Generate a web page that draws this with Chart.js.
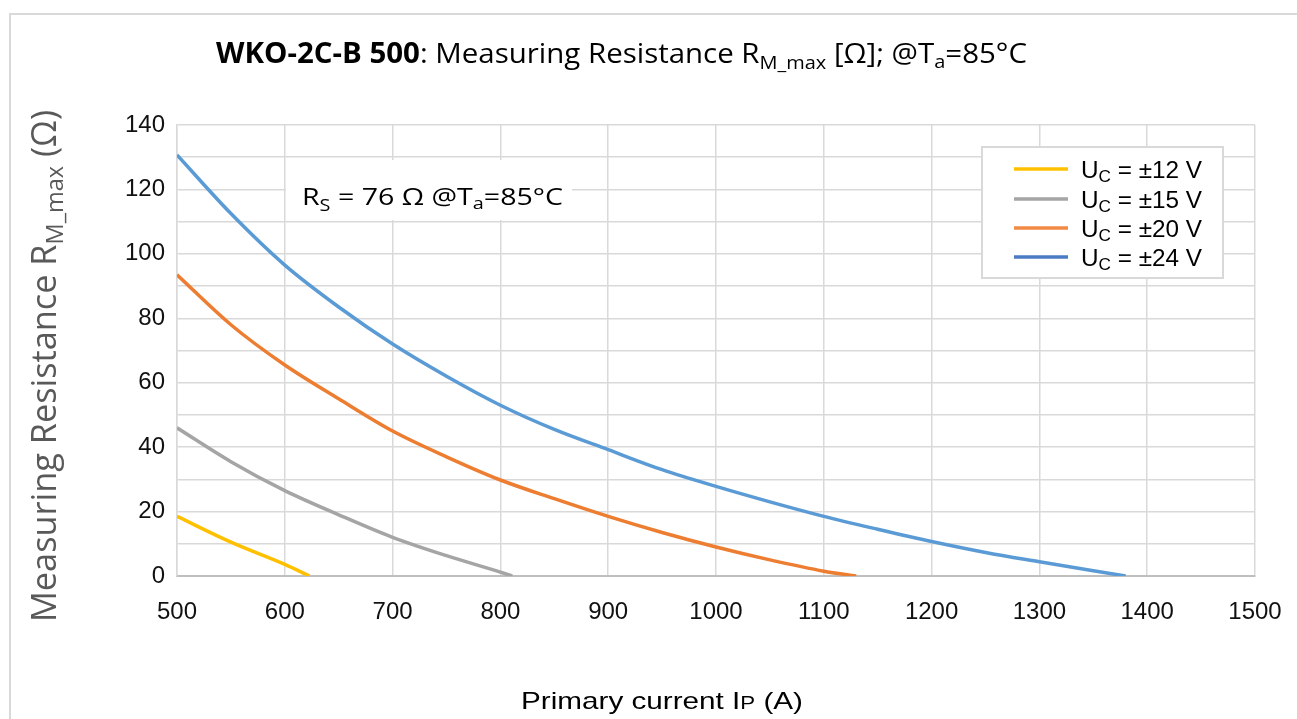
<!DOCTYPE html>
<html>
<head>
<meta charset="utf-8">
<script src="https://cdn.jsdelivr.net/npm/chart.js@4.4.1/dist/chart.umd.min.js"></script>
<style>
html,body{margin:0;padding:0;background:#fff;}
canvas{display:block;}
</style>
</head>
<body>
<canvas id="c" width="1297" height="719"></canvas>
<script>
// ---- Data ----
const seriesLabels = ['±12 V', '±15 V', '±20 V', '±24 V'];
const ip12 = [500, 550, 600, 623];
const r12  = [18.5, 10.5, 3.6, 0];
const ip15 = [500, 550, 600, 650, 700, 750, 800, 811];
const r15  = [46, 35.5, 26.5, 19, 12, 6.3, 1.2, 0];
const ip20 = [500, 550, 600, 650, 700, 750, 800, 850, 900, 950, 1000, 1050, 1100, 1130];
const r20  = [93.5, 78, 65.5, 55, 45, 37, 29.8, 24, 18.5, 13.5, 9, 5, 1.5, 0];
const ip24 = [500, 550, 600, 650, 700, 750, 800, 850, 900, 950, 1000, 1050, 1100, 1150, 1200, 1250, 1300, 1350, 1380];
const r24  = [130.7, 112.5, 96.5, 83.5, 72, 62, 53, 45.5, 39.2, 33, 27.8, 23, 18.5, 14.5, 10.7, 7.3, 4.4, 1.6, 0];
const xTicks = [500, 600, 700, 800, 900, 1000, 1100, 1200, 1300, 1400, 1500];
const yTicks = [0, 20, 40, 60, 80, 100, 120, 140];

const colors = ['#FFC000', '#A5A5A5', '#ED7D31', '#5B9BD5'];
const legendColors = ['#FFC000', '#A5A5A5', '#F08A45', '#4A7CC4'];

function pts(xs, ys){ return xs.map((x,i)=>({x:x, y:ys[i]})); }

function drawRich(ctx, parts, o){
  ctx.save();
  let total = 0;
  for (const p of parts){
    ctx.font = (p.weight||'normal') + ' ' + p.size + 'px ' + (p.family||o.family);
    p.w = ctx.measureText(p.t).width;
    total += p.w;
  }
  const sx = o.width ? o.width/total : 1;
  ctx.translate(o.x, o.y);
  if (o.rotate) ctx.rotate(-Math.PI/2);
  ctx.scale(sx, 1);
  let cx = o.align === 'center' ? -total/2 : 0;
  ctx.fillStyle = o.color;
  ctx.textBaseline = 'alphabetic';
  ctx.textAlign = 'left';
  for (const p of parts){
    ctx.font = (p.weight||'normal') + ' ' + p.size + 'px ' + (p.family||o.family);
    ctx.fillText(p.t, cx, p.dy||0);
    cx += p.w;
  }
  ctx.restore();
}

const textPlugin = {
  id: 'texts',
  beforeDraw(chart){
    const ctx = chart.ctx;
    ctx.save();
    ctx.fillStyle = '#fff';
    ctx.fillRect(0,0,chart.width,chart.height);
    ctx.strokeStyle = '#d9d9d9';
    ctx.lineWidth = 2;
    ctx.strokeRect(10, 14, chart.width + 20, chart.height + 20);
    ctx.restore();
  },
  beforeDatasetsDraw(chart){
    const ctx = chart.ctx;
    ctx.save();
    ctx.fillStyle = '#fff';
    ctx.fillRect(286, 160, 286, 60);
    ctx.restore();
    const F = '"Open Sans", sans-serif';
    drawRich(ctx, [
      {t:'R', size:23},
      {t:'S', size:16, dy:6},
      {t:' = 76 Ω @T', size:23},
      {t:'a', size:16, dy:4},
      {t:'=85°C', size:23}
    ], {x:302, y:205, align:'left', width:261, color:'#000', family:F});
  },
  afterDraw(chart){
    const ctx = chart.ctx;
    const F = '"Open Sans", sans-serif';
    const A = '"Liberation Sans", Arial, sans-serif';
    drawRich(ctx, [
      {t:'WKO-2C-B 500', size:28, weight:'bold'},
      {t:': Measuring Resistance R', size:28},
      {t:'M_max', size:19, dy:6},
      {t:' [Ω]; @T', size:28},
      {t:'a', size:19, dy:5},
      {t:'=85°C', size:28}
    ], {x:621.5, y:63, align:'center', width:811, color:'#000', family:F});
    drawRich(ctx, [
      {t:'Measuring Resistance R', size:35},
      {t:'M_max', size:24, dy:7},
      {t:' (Ω)', size:35}
    ], {x:56, y:366, align:'center', width:512, rotate:true, color:'#595959', family:F});
    drawRich(ctx, [
      {t:'Primary current I', size:24},
      {t:'P', size:18},
      {t:' (A)', size:24}
    ], {x:662, y:709, align:'center', width:282, color:'#000', family:A});
    ctx.save();
    ctx.fillStyle = '#fff';
    ctx.fillRect(982, 147, 241, 131);
    ctx.strokeStyle = '#d9d9d9';
    ctx.lineWidth = 2;
    ctx.strokeRect(982, 147, 241, 131);
    const rows = [169, 199, 228, 257];
    chart.data.datasets.forEach((ds, i) => {
      const y = rows[i];
      ctx.strokeStyle = legendColors[i];
      ctx.lineWidth = 3.5;
      ctx.beginPath();
      ctx.moveTo(1014, y);
      ctx.lineTo(1068, y);
      ctx.stroke();
      drawRich(ctx, [
        {t:'U', size:24},
        {t:'C', size:17, dy:4},
        {t:' = ' + seriesLabels[i], size:24}
      ], {x:1081, y:y+9, align:'left', width:121, color:'#000', family:A});
    });
    ctx.restore();
  }
};

const ctx = document.getElementById('c').getContext('2d');
new Chart(ctx, {
  type: 'line',
  data: {
    datasets: [
      {label:'Uc = ' + seriesLabels[0], data: pts(ip12, r12), borderColor: colors[0]},
      {label:'Uc = ' + seriesLabels[1], data: pts(ip15, r15), borderColor: colors[1]},
      {label:'Uc = ' + seriesLabels[2], data: pts(ip20, r20), borderColor: colors[2]},
      {label:'Uc = ' + seriesLabels[3], data: pts(ip24, r24), borderColor: colors[3]}
    ].map(d => Object.assign(d, {borderWidth:3.5, pointRadius:0, fill:false, cubicInterpolationMode:'monotone'}))
  },
  options: {
    responsive: false,
    animation: false,
    devicePixelRatio: 1,
    layout: { padding: { top: 125, right: 42, left: 0, bottom: 0 } },
    plugins: { legend: { display: false }, title: { display: false }, tooltip: { enabled: false } },
    scales: {
      x: {
        type: 'linear',
        min: xTicks[0], max: xTicks[xTicks.length-1],
        afterBuildTicks(scale){ scale.ticks = xTicks.map(v => ({value:v})); },
        afterFit(scale){ scale.height = 143; scale.paddingLeft = 0; scale.paddingRight = 0; },
        ticks: { font: { size: 24, family: '"Liberation Sans", Arial, sans-serif' }, color: '#111', padding: 22, maxRotation: 0, autoSkip: false,
                 callback: (v) => String(v) },
        grid: { color: '#d9d9d9', lineWidth: 1.5, drawTicks: false },
        border: { color: '#bfbfbf', width: 2 }
      },
      y: {
        type: 'linear',
        min: 0, max: 140,
        afterBuildTicks(scale){
          const t = [];
          for (let v = 0; v <= 140; v += 10) t.push({value:v});
          scale.ticks = t;
        },
        afterFit(scale){ scale.width = 177; scale.paddingTop = 0; scale.paddingBottom = 0; },
        ticks: {
          font: { size: 24, family: '"Liberation Sans", Arial, sans-serif' }, color: '#111', padding: 12, autoSkip: false,
          callback: (v) => yTicks.includes(v) ? String(v) : ''
        },
        grid: { color: '#d9d9d9', lineWidth: 1.5, drawTicks: false },
        border: { color: '#d9d9d9', width: 1.5 }
      }
    }
  },
  plugins: [textPlugin]
});
</script>
</body>
</html>
